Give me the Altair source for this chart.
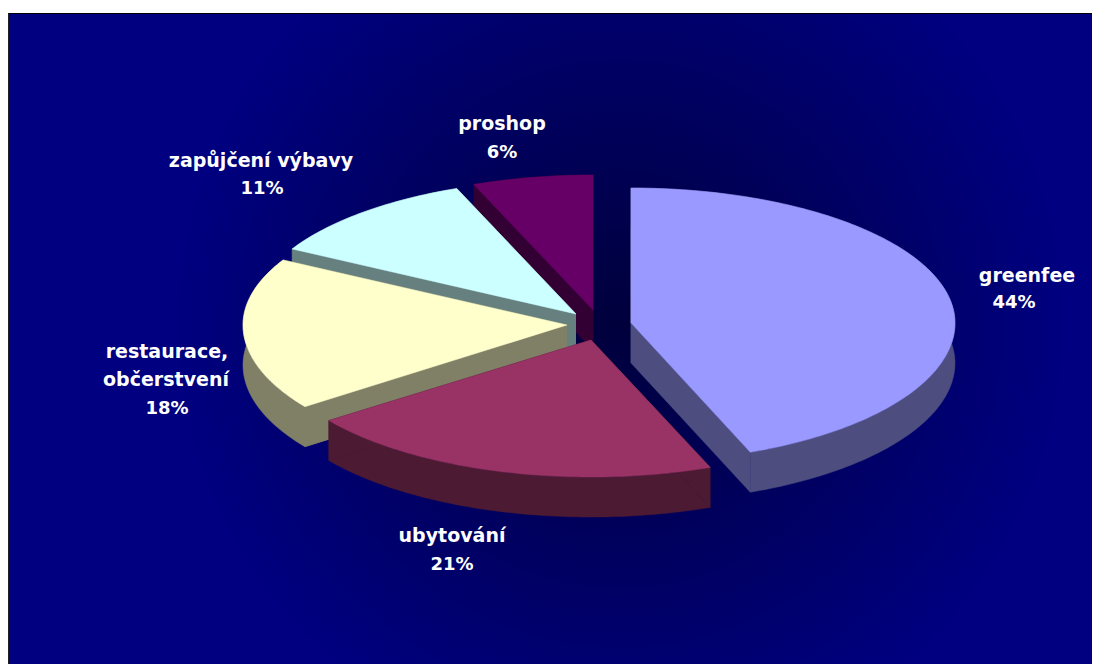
import math
import altair as alt
import pandas as pd

# --- values
categories = ["greenfee", "ubytování", "restaurace, občerstvení", "zapůjčení výbavy", "proshop"]
shares = [44, 21, 18, 11, 6]
top_colors = ["#9999FF", "#993366", "#FFFFCC", "#CCFFFF", "#660066"]
side_colors = ["#4D4D80", "#4D1A33", "#808066", "#668080", "#330033"]

# --- layout of the exploded, tilted pie (page pixels)
centers = [(631, 323), (591, 340), (567, 325), (576, 314), (593, 310)]
ry_front = [139, 137, 139, 139, 139]
RX, RY_BACK, DEPTH = 324, 135, 40
draw_order = [4, 3, 2, 1, 0]
label_lines = [["greenfee", "44%"], ["ubytování", "21%"], ["restaurace,", "občerstvení", "18%"],
               ["zapůjčení výbavy", "11%"], ["proshop", "6%"]]
label_xy = [[(1027, 282), (1014, 308)], [(452, 542), (452, 570)],
            [(167, 358), (166, 386), (167, 414)], [(261, 167), (262, 194)], [(502, 130), (502, 158)]]


def rim(n, deg, drop=0):
    cx, cy = centers[n]
    a = math.radians(deg)
    c = math.cos(a)
    return (cx + RX * math.sin(a), cy - (RY_BACK if c > 0 else ry_front[n]) * c + drop)


starts = [sum(shares[:i]) * 3.6 for i in range(len(shares))]
rows = []


def poly(name, color, pts):
    for k, (x, y) in enumerate(pts):
        rows.append({"poly": name, "color": color, "i": k, "x": x, "y": y})


for n in draw_order:
    a0, a1 = starts[n], starts[n] + shares[n] * 3.6
    cx, cy = centers[n]
    steps = max(2, int(a1 - a0))
    degs = [a0 + (a1 - a0) * s / steps for s in range(steps + 1)]
    arc = [rim(n, d) for d in degs]
    low = [rim(n, d, DEPTH) for d in degs]
    # extruded walls, drawn as one silhouette, then the top face
    poly(f"wall{n}", side_colors[n], [(cx, cy + DEPTH)] + low + arc[::-1] + [(cx, cy)])
    for tag, p in (("a", arc[0]), ("b", arc[-1])):
        poly(f"cut{n}{tag}", side_colors[n], [(cx, cy), p, (p[0], p[1] + DEPTH), (cx, cy + DEPTH)])
    poly(f"top{n}", top_colors[n], [(cx, cy)] + arc + [(cx, cy)])

df = pd.DataFrame(rows)
# the page leaves 1084 px of width: the panel runs from x=8 to x=1092
xs = alt.Scale(domain=[8, 1092], nice=False, zero=False)
ys = alt.Scale(domain=[664, 8], nice=False, zero=False)
X = alt.X("x:Q", scale=xs, axis=None)
Y = alt.Y("y:Q", scale=ys, axis=None)

panel = pd.DataFrame([{"x": 8, "x2": 1092, "y": 14, "y2": 664}])
bg = alt.Chart(panel).mark_rect(
    fill=alt.RadialGradient(
        gradient="radial", x1=0.565, y1=0.486, r1=0, x2=0.565, y2=0.486, r2=0.41,
        stops=[alt.GradientStop(offset=0, color="#00003C"),
               alt.GradientStop(offset=1, color="#000080")])
).encode(x=X, x2="x2:Q", y=Y, y2="y2:Q")

frame_top = alt.Chart(pd.DataFrame([{"x": 8, "x2": 1092, "y": 13.5}])).mark_rule(
    color="#000000", strokeWidth=1).encode(x=X, x2="x2:Q", y=Y)
frame_left = alt.Chart(pd.DataFrame([{"x": 8.5, "y": 13, "y2": 664}])).mark_rule(
    color="#222222", strokeWidth=1).encode(x=X, y=Y, y2="y2:Q")

pie = alt.Chart(df).mark_line(strokeWidth=0.5, interpolate="linear").encode(
    x=X, y=Y, detail="poly:N", order="i:Q",
    fill=alt.Fill("color:N", scale=None),
    stroke=alt.Stroke("color:N", scale=None),
)

text_rows = []
for lines, pos in zip(label_lines, label_xy):
    for t, (x, y) in zip(lines, pos):
        text_rows.append({"t": t, "x": x, "y": y, "s": 18 if t.endswith("%") else 19})
labels = alt.Chart(pd.DataFrame(text_rows)).mark_text(
    font="DejaVu Sans", fontWeight="bold", color="#FFFFFF",
    align="center", baseline="alphabetic"
).encode(x=X, y=Y, text="t:N", size=alt.Size("s:Q", scale=None, legend=None))

chart = (bg + frame_top + frame_left + pie + labels).properties(
    width=1084, height=656, padding=0,
    autosize=alt.AutoSizeParams(type="none"),
).configure_view(stroke=None)

chart.save("out.html", embed_options={"renderer": "svg", "actions": False})
